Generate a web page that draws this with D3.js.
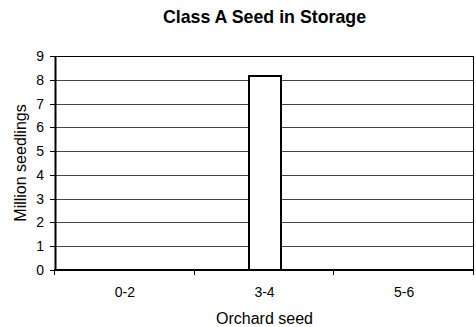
<!DOCTYPE html>
<html>
<head>
<meta charset="utf-8">
<script src="https://cdn.jsdelivr.net/npm/d3@7"></script>
<style>
  html, body { margin: 0; padding: 0; background: #fff; }
  svg { display: block; font-family: Arial, "Liberation Sans", sans-serif; }
</style>
</head>
<body>
<svg id="chart" width="476" height="327"></svg>
<script>
// Seed storage by orchard seed age class
const categories = ["0-2", "3-4", "5-6"];
const values = [0, 8.15, 0];
const yTicks = [0, 1, 2, 3, 4, 5, 6, 7, 8, 9];
const title = "Class A Seed in Storage";
const xTitle = "Orchard seed";
const yTitle = "Million seedlings";

const svg = d3.select("#chart");
const margin = { left: 55, right: 2, top: 56, bottom: 57 };
const W = 476, H = 327;
const x0 = margin.left, x1 = W - margin.right;
const y0 = H - margin.bottom, y1 = margin.top;

const x = d3.scaleBand().domain(categories).range([x0, x1]).paddingInner(0).paddingOuter(0);
const y = d3.scaleLinear().domain([0, 9]).range([y0, y1]);
const py = v => Math.round(y(v)) + 0.5;

// Horizontal gridlines
svg.append("g")
  .selectAll("line")
  .data(yTicks.filter(d => d > 0))
  .join("line")
  .attr("x1", x0).attr("x2", x1)
  .attr("y1", d => py(d))
  .attr("y2", d => py(d))
  .attr("stroke", d => d === 9 ? "#000" : "#444").attr("stroke-width", 1);

// Right frame edge
svg.append("line")
  .attr("x1", x1 - 0.5).attr("x2", x1 - 0.5)
  .attr("y1", py(9)).attr("y2", py(0))
  .attr("stroke", "#000");

// Bars
const bw = 32;
svg.append("g")
  .selectAll("rect")
  .data(categories.map((c, i) => ({ c, v: values[i] })).filter(d => d.v > 0))
  .join("rect")
  .attr("x", d => Math.round(x(d.c) + x.bandwidth() / 2 - bw / 2))
  .attr("width", bw)
  .attr("y", d => Math.round(y(d.v)))
  .attr("height", d => Math.round(y(0)) - Math.round(y(d.v)))
  .attr("fill", "#fff")
  .attr("stroke", "#000")
  .attr("stroke-width", 2);

// Y axis
const yAxis = d3.axisLeft(y).tickValues(yTicks).tickSize(5).tickPadding(6).tickSizeOuter(0);
const gy = svg.append("g").attr("transform", `translate(${x0},0)`).call(yAxis);
gy.select(".domain").attr("stroke", "#000").attr("stroke-width", 2);
gy.selectAll(".tick").attr("transform", d => `translate(0,${py(d)})`);
gy.selectAll(".tick line").attr("stroke", "#000");
gy.selectAll("text").attr("font-size", 14).attr("fill", "#000")
  .attr("font-family", "Arial, 'Liberation Sans', sans-serif");

// X axis: ticks at category boundaries
const gx = svg.append("g").attr("transform", `translate(0,${Math.round(y(0))})`);
gx.append("line").attr("x1", x0 - 1).attr("x2", x1).attr("stroke", "#000").attr("stroke-width", 2);
const bounds = categories.map(c => x(c)).concat([x1]);
gx.selectAll("line.tk").data(bounds).join("line").attr("class", "tk")
  .attr("x1", d => Math.round(d) - 0.5).attr("x2", d => Math.round(d) - 0.5)
  .attr("y1", 0).attr("y2", 5).attr("stroke", "#000");
gx.selectAll("text").data(categories).join("text")
  .attr("x", d => x(d) + x.bandwidth() / 2)
  .attr("y", 27)
  .attr("text-anchor", "middle")
  .attr("font-size", 14)
  .text(d => d);

// Titles
svg.append("text")
  .attr("x", (x0 + x1) / 2).attr("y", 23)
  .attr("text-anchor", "middle")
  .attr("font-size", 17.8).attr("font-weight", "bold")
  .text(title);

svg.append("text")
  .attr("x", (x0 + x1) / 2).attr("y", 324)
  .attr("text-anchor", "middle")
  .attr("font-size", 16)
  .text(xTitle);

svg.append("text")
  .attr("transform", `translate(26,${(y0 + y1) / 2}) rotate(-90)`)
  .attr("text-anchor", "middle")
  .attr("font-size", 16)
  .text(yTitle);
</script>
</body>
</html>
